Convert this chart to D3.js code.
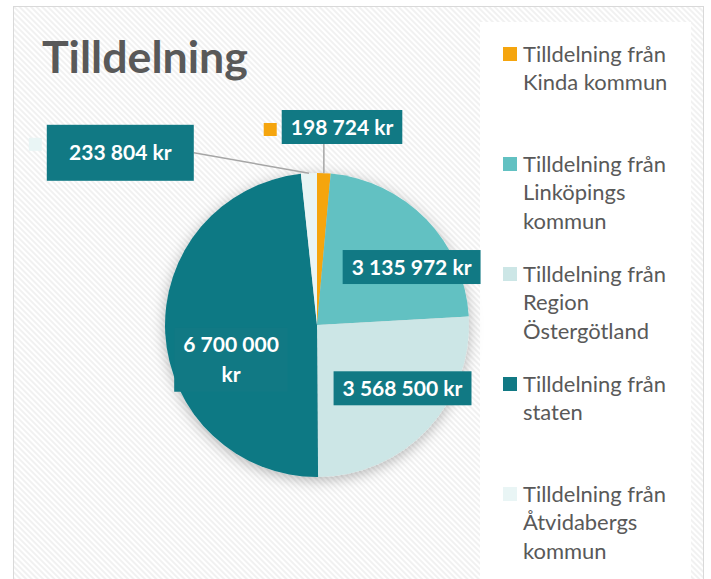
<!DOCTYPE html>
<html lang="sv">
<head>
<meta charset="UTF-8">
<title>Tilldelning</title>
<script src="https://cdn.jsdelivr.net/npm/d3@7"></script>
<style>
  body{margin:0;background:#fff;}
</style>
</head>
<body>
<svg id="chart" width="711" height="579"></svg>
<script>
// data
var categories=["Tilldelning från Kinda kommun","Tilldelning från Linköpings kommun","Tilldelning från Region Östergötland","Tilldelning från staten","Tilldelning från Åtvidabergs kommun"];
var amounts=[198724,3135972,3568500,6700000,233804];
var colors=["#f5a50e","#62c1c2","#cce6e6","#117984","#e9f5f5"];
var title="Tilldelning";

// where Excel put each data label (degrees clockwise from 12, distance in radii)
var labelLayout=[
  {angle:7.2,dist:1.313,outside:true},
  {angle:58.5,dist:0.73},
  {angle:126.5,dist:0.70},
  {angle:248,dist:0.61,wrap:true},
  {angle:311.2,dist:1.72,outside:true,boxW:147,boxH:56}
];

var fontFam="Lato, 'Open Sans', sans-serif";
var sv=d3.formatLocale({decimal:",",thousands:"\u00a0",grouping:[3],currency:["","\u00a0kr"]});
var fmt=sv.format(",d");

var svg=d3.select("#chart");
var defs=svg.append("defs");

var pat=defs.append("pattern").attr("id","stripes").attr("patternUnits","userSpaceOnUse")
  .attr("width",4).attr("height",4).attr("patternTransform","rotate(-45)");
pat.append("rect").attr("width",4).attr("height",4).attr("fill","#ffffff");
pat.append("rect").attr("width",2).attr("height",4).attr("fill","#f1f1f1");

var flt=defs.append("filter").attr("id","shadow").attr("x","-25%").attr("y","-25%").attr("width","150%").attr("height","150%");
flt.append("feDropShadow").attr("dx",0).attr("dy",3).attr("stdDeviation",7)
  .attr("flood-color","#000").attr("flood-opacity",0.28);

function measure(txt,weight,size){
  var t=svg.append("text").attr("font-family",fontFam).attr("font-weight",weight).attr("font-size",size).text(txt);
  var w=t.node().getComputedTextLength();
  t.remove();
  return w;
}
function fitSize(txt,weight,target){ return 100*target/measure(txt,weight,100); }

// frame + legend background
svg.append("rect").attr("x",13.5).attr("y",6.5).attr("width",690).attr("height",620)
  .attr("fill","url(#stripes)").attr("stroke","#d9d9d9");
svg.append("rect").attr("x",480).attr("y",22).attr("width",211).attr("height",600).attr("fill","#fff");

// title
var titleSize=fitSize(title,700,206);
svg.append("text").attr("x",42).attr("y",73).attr("font-family",fontFam).attr("font-weight",700)
  .attr("font-size",titleSize).attr("fill","#595959").text(title);

// pie
var cx=317,cy=325,R=152;
var arcs=d3.pie().sort(null).value(function(d){return d;})(amounts);
var arc=d3.arc().innerRadius(0).outerRadius(R);
var g=svg.append("g").attr("transform","translate("+cx+","+cy+")");
g.append("g").attr("filter","url(#shadow)").selectAll("path").data(arcs).join("path")
  .attr("d",arc).attr("fill",function(d,i){return colors[i];});

// data labels
var labSize=fitSize("3 568 500 kr",700,120);
var lineH=30;
arcs.forEach(function(d,i){
  var L=labelLayout[i];
  var a=L.angle*Math.PI/180;
  var lx=Math.sin(a)*L.dist*R, ly=-Math.cos(a)*L.dist*R;
  var lines=L.wrap?[fmt(d.value),"kr"]:[fmt(d.value)+"\u00a0kr"];
  var tw=d3.max(lines,function(s){return measure(s,700,labSize);});
  var bw=L.boxW||tw+18, bh=L.boxH||(34+lineH*(lines.length-1));
  var x0=lx-bw/2,y0=ly-bh/2;
  if(L.outside){
    var mid=(d.startAngle+d.endAngle)/2;
    var px=Math.sin(mid)*R, py=-Math.cos(mid)*R, sx, sy;
    if(px>=x0&&px<=x0+bw){ sx=px; sy=py>ly?y0+bh:y0; }
    else { sx=px>lx?x0+bw:x0; sy=ly; }
    g.append("line").attr("x1",sx).attr("y1",sy).attr("x2",px).attr("y2",py)
      .attr("stroke","#a6a6a6").attr("stroke-width",1.5);
    g.append("rect").attr("x",x0-18).attr("y",y0+13).attr("width",13).attr("height",13).attr("fill",colors[i]);
  }
  g.append("rect").attr("x",x0).attr("y",y0).attr("width",bw).attr("height",bh).attr("fill","#117984");
  var t=g.append("text").attr("font-family",fontFam).attr("font-weight",700).attr("font-size",labSize)
    .attr("fill","#fff").attr("text-anchor","middle");
  lines.forEach(function(s,k){
    t.append("tspan").attr("x",lx).attr("y",ly-(lines.length-1)*lineH/2+k*lineH+labSize*0.36).text(s);
  });
});

// legend
var legSize=fitSize("Tilldelning från",400,143);
var legLineH=28.5;
var legendY=d3.scalePoint().domain(categories).range([54,494]);
function wrap(txt,maxW){
  var words=txt.split(" "),out=[],cur="";
  words.forEach(function(w){
    var test=cur?cur+" "+w:w;
    if(cur&&measure(test,400,legSize)>maxW){out.push(cur);cur=w;} else cur=test;
  });
  out.push(cur);
  return out;
}
var leg=svg.append("g");
categories.forEach(function(c,i){
  var y=legendY(c);
  leg.append("rect").attr("x",503).attr("y",y-7).attr("width",14).attr("height",14).attr("fill",colors[i]);
  var t=leg.append("text").attr("font-family",fontFam).attr("font-size",legSize).attr("fill","#595959");
  wrap(c,160).forEach(function(s,k){
    t.append("tspan").attr("x",523).attr("y",y+legSize*0.36+k*legLineH).text(s);
  });
});
</script>
</body>
</html>
